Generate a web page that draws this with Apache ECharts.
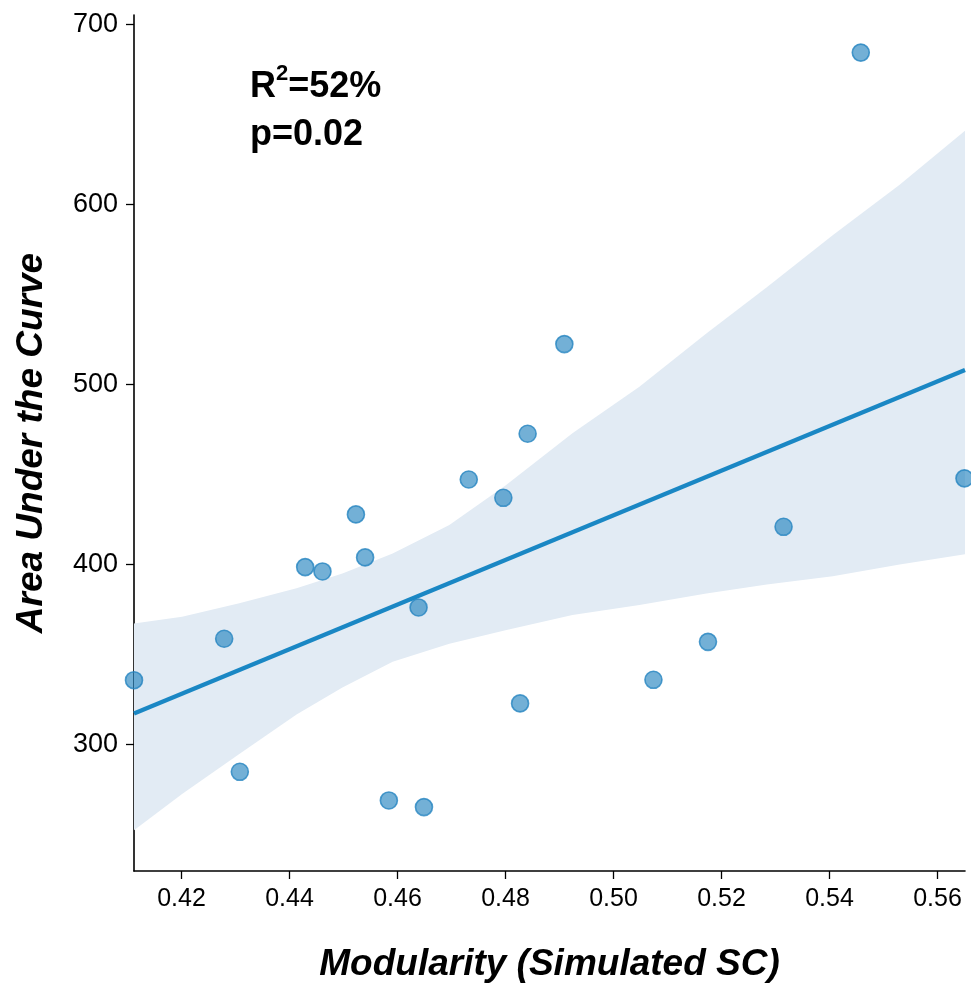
<!DOCTYPE html>
<html>
<head>
<meta charset="utf-8">
<script src="https://cdn.jsdelivr.net/npm/echarts@6/dist/echarts.min.js"></script>
<style>
  html, body { margin: 0; padding: 0; background: #fff; }
  #chart { width: 971px; height: 1000px; }
</style>
</head>
<body>
<div id="chart"></div>
<script>
// scatter points: modularity vs AUC
const modularity = [0.4112, 0.4279, 0.4308, 0.4429, 0.4461, 0.4523, 0.4540, 0.4639, 0.4584, 0.4649,
                    0.4732, 0.4796, 0.4841, 0.4827, 0.4909, 0.5074, 0.5175, 0.5315, 0.5458, 0.5650];
const auc = [335.8, 358.8, 284.9, 398.6, 396.2, 427.9, 404.0, 376.2, 269.0, 265.3,
             447.3, 437.1, 472.7, 322.9, 522.5, 336.0, 357.1, 421.0, 684.4, 447.9];

// fitted line ends
const fitX = [0.4112, 0.5651];
const fitY = [317.3, 508.1];

// confidence band
const bandX = [0.4112, 0.4201, 0.4307, 0.4413, 0.4498, 0.4591, 0.4696, 0.4800,
               0.4924, 0.5048, 0.5172, 0.5284, 0.5406, 0.5530, 0.5651];
const bandUpper = [367.3, 371.0, 378.6, 386.8, 395.1, 406.2, 422.0, 444.0,
                   472.9, 498.8, 528.4, 554.0, 583.0, 611.0, 641.0];
const bandLower = [252.5, 272.6, 294.8, 316.8, 331.7, 346.0, 356.0, 363.5,
                   372.0, 377.5, 384.0, 389.0, 393.5, 400.0, 405.8];

const xTicks = [0.42, 0.44, 0.46, 0.48, 0.50, 0.52, 0.54, 0.56];
const yTicks = [300, 400, 500, 600, 700];

const font = "'Liberation Sans', Arial, Helvetica, sans-serif";
const blue = '#1a87c4';

const chart = echarts.init(document.getElementById('chart'), null, { renderer: 'canvas' });

chart.setOption({
  animation: false,
  backgroundColor: '#fff',
  grid: { left: 134, right: 6, top: 15, bottom: 129, containLabel: false },
  title: {
    text: 'R{sup|2}=52%\np=0.02',
    left: 245,
    top: 58,
    textStyle: {
      fontFamily: font, fontSize: 36, fontWeight: 'bold', color: '#000', lineHeight: 48,
      rich: {
        sup: { fontFamily: font, fontSize: 22, fontWeight: 'bold', color: '#000', verticalAlign: 'top', lineHeight: 48, padding: [0, 0, 14, 0] }
      }
    }
  },
  xAxis: {
    type: 'value',
    min: 0.4112,
    max: 0.5651,
    name: 'Modularity (Simulated SC)',
    nameLocation: 'middle',
    nameGap: 75,
    nameTextStyle: { fontFamily: font, fontSize: 37, fontWeight: 'bold', fontStyle: 'italic', color: '#000' },
    axisLine: { lineStyle: { color: '#000', width: 1.6 } },
    axisTick: { show: true, length: 8, lineStyle: { color: '#000', width: 1.3 }, customValues: xTicks },
    axisLabel: {
      customValues: xTicks,
      fontFamily: font, fontSize: 25, color: '#000', margin: 16,
      formatter: v => v.toFixed(2)
    },
    splitLine: { show: false }
  },
  yAxis: {
    type: 'value',
    min: 229.8,
    max: 705.3,
    name: 'Area Under the Curve',
    nameLocation: 'middle',
    nameGap: 84,
    nameTextStyle: { fontFamily: font, fontSize: 37, fontWeight: 'bold', fontStyle: 'italic', color: '#000' },
    axisLine: { show: true, lineStyle: { color: '#000', width: 1.6 } },
    axisTick: { show: true, length: 8, lineStyle: { color: '#000', width: 1.3 }, customValues: yTicks },
    axisLabel: {
      customValues: yTicks,
      fontFamily: font, fontSize: 27, color: '#000', margin: 16
    },
    splitLine: { show: false }
  },
  series: [
    {
      name: 'ci',
      type: 'custom',
      z: 1,
      silent: true,
      data: [0],
      renderItem: (params, api) => {
        const pts = [];
        for (let i = 0; i < bandX.length; i++) pts.push(api.coord([bandX[i], bandUpper[i]]));
        for (let i = bandX.length - 1; i >= 0; i--) pts.push(api.coord([bandX[i], bandLower[i]]));
        return {
          type: 'polygon',
          shape: { points: pts },
          style: { fill: '#e2ebf4', stroke: null }
        };
      }
    },
    {
      name: 'fit',
      type: 'line',
      z: 3,
      symbol: 'none',
      data: fitX.map((x, i) => [x, fitY[i]]),
      lineStyle: { color: blue, width: 4.2 }
    },
    {
      name: 'points',
      type: 'scatter',
      z: 4,
      clip: true,
      symbol: 'circle',
      symbolSize: 17,
      data: modularity.map((x, i) => [x, auc[i]]),
      itemStyle: { color: 'rgba(31, 128, 190, 0.78)', borderColor: '#2584c0', borderWidth: 1.6 }
    }
  ]
});
</script>
</body>
</html>
